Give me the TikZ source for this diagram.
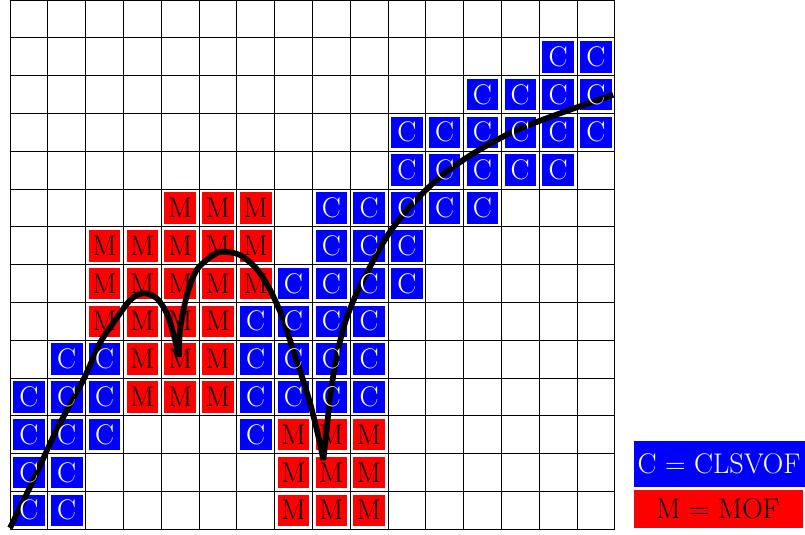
\documentclass[tikz,border=0pt]{standalone}
\begin{document}
\begin{tikzpicture}[
  gridline/.style={line width=0.5pt, black},
  cellbox/.style={minimum size=0.86cm, inner sep=0pt, draw=white, line width=0.6pt},
  cbox/.style={cellbox, fill=blue},
  mbox/.style={cellbox, fill=red},
  bigfont/.style={font=\fontsize{21.4}{24}\selectfont},
  ctext/.style={bigfont, text=white, inner sep=0pt},
  mtext/.style={bigfont, text=black, inner sep=0pt},
  legbox/.style={bigfont, draw=white, line width=0.6pt, inner sep=0pt, anchor=south west},
  curve/.style={line width=4.3pt, black, line join=bevel}]
\useasboundingbox (-0.265,-0.13) rectangle (21.035,14.0);
% grid
\draw[gridline] (0,0) grid (16,14);
% cell boxes
\foreach \y/\xs in {12/{14,15}, 11/{12,13,14,15}, 10/{10,11,12,13,14,15}, 9/{10,11,12,13,14},
  8/{8,9,10,11,12}, 7/{8,9,10}, 6/{7,8,9,10}, 5/{6,7,8,9}, 4/{1,2,6,7,8,9},
  3/{0,1,2,6,7,8,9}, 2/{0,1,2,6}, 1/{0,1}, 0/{0,1}}{
  \foreach \x in \xs { \node[cbox] (c-\x-\y) at (\x+0.5,\y+0.5) {}; }
}
\foreach \y/\xs in {8/{4,5,6}, 7/{2,3,4,5,6}, 6/{2,3,4,5,6}, 5/{2,3,4,5}, 4/{3,4,5},
  3/{3,4,5}, 2/{7,8,9}, 1/{7,8,9}, 0/{7,8,9}}{
  \foreach \x in \xs { \node[mbox] (m-\x-\y) at (\x+0.5,\y+0.5) {}; }
}
% curve
\draw[curve] plot[smooth, tension=0.5] coordinates {(0,0.03) (0.62,1.30) (1.23,2.62) (1.94,3.95) (2.38,4.92) (2.73,5.45) (3.18,6.06) (3.53,6.24) (3.88,6.11) (4.15,5.71) (4.32,5.18) (4.47,4.56)}
  -- plot[smooth, tension=0.5] coordinates {(4.47,4.56) (4.50,5.27) (4.67,6.15) (4.94,6.86) (5.38,7.25) (5.64,7.34) (6.09,7.25) (6.53,6.88) (6.88,6.33) (7.23,5.55) (7.50,4.70) (7.67,4.21) (7.94,3.33) (8.16,2.45) (8.29,1.83)}
  -- plot[smooth, tension=0.5] coordinates {(8.29,1.83) (8.38,2.62) (8.47,3.50) (8.64,4.56) (8.86,5.45) (9.13,6.15) (9.39,6.68) (9.97,7.74) (10.58,8.53) (11.38,9.32) (12.26,9.94) (13.32,10.52) (14.55,11.0) (15.96,11.49)};
% cell labels
\foreach \y/\xs in {12/{14,15}, 11/{12,13,14,15}, 10/{10,11,12,13,14,15}, 9/{10,11,12,13,14},
  8/{8,9,10,11,12}, 7/{8,9,10}, 6/{7,8,9,10}, 5/{6,7,8,9}, 4/{1,2,6,7,8,9},
  3/{0,1,2,6,7,8,9}, 2/{0,1,2,6}, 1/{0,1}, 0/{0,1}}{
  \foreach \x in \xs { \node[ctext] (ct-\x-\y) at (c-\x-\y) {C}; }
}
\foreach \y/\xs in {8/{4,5,6}, 7/{2,3,4,5,6}, 6/{2,3,4,5,6}, 5/{2,3,4,5}, 4/{3,4,5},
  3/{3,4,5}, 2/{7,8,9}, 1/{7,8,9}, 0/{7,8,9}}{
  \foreach \x in \xs { \node[mtext] (mt-\x-\y) at (m-\x-\y) {M}; }
}
% legend
\node[legbox, fill=blue, text=white, minimum width=4.55cm, minimum height=1.24cm] (legC) at (16.475,1.09) {C = CLSVOF};
\node[legbox, fill=red, text=black, minimum width=4.50cm, minimum height=1.02cm] (legM) at (16.475,0.01) {M = MOF};
\end{tikzpicture}
\end{document}
